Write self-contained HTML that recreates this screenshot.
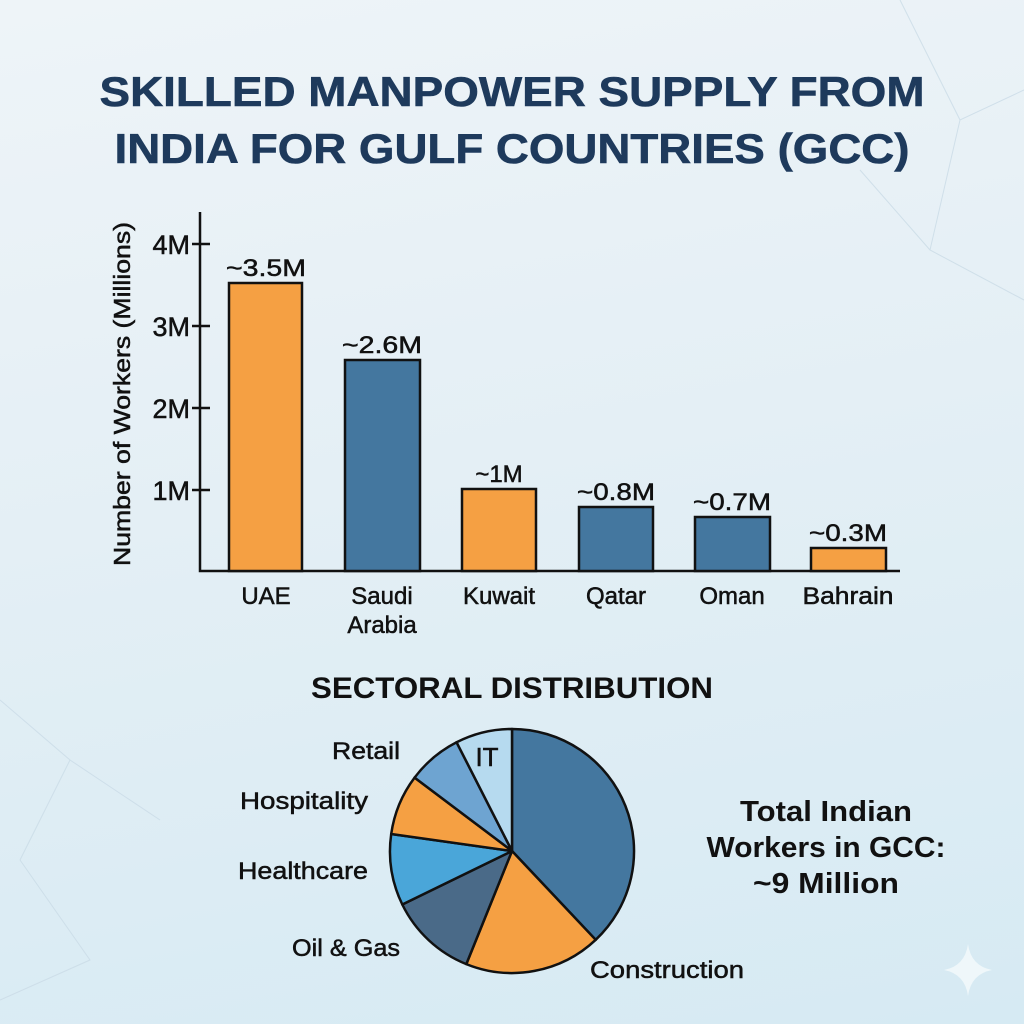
<!DOCTYPE html>
<html><head><meta charset="utf-8"><style>
html,body{margin:0;padding:0;width:1024px;height:1024px;overflow:hidden}
body{background:linear-gradient(170deg,#eef4f8 0%,#e4eff5 45%,#d6eaf3 100%)}
svg{display:block}
text{font-family:"Liberation Sans",Arial,sans-serif}
.lb{stroke:#111;stroke-width:0.5}
</style></head><body>
<svg width="1024" height="1024" viewBox="0 0 1024 1024" xmlns="http://www.w3.org/2000/svg">
<g stroke="#c9dbe6" stroke-width="1" fill="none" opacity="0.8">
<path d="M900 0 L960 120 L1024 90 M960 120 L930 250 L1024 300 M930 250 L860 170 M0 700 L70 760 L20 860 M70 760 L160 820 M20 860 L90 960 L0 1000"/>
</g>
<text x="512" y="106" text-anchor="middle" font-size="42" font-weight="bold" fill="#1e3a5c" stroke="#1e3a5c" stroke-width="0.6" textLength="825" lengthAdjust="spacingAndGlyphs">SKILLED MANPOWER SUPPLY FROM</text>
<text x="512" y="163" text-anchor="middle" font-size="42" font-weight="bold" fill="#1e3a5c" stroke="#1e3a5c" stroke-width="0.6" textLength="795" lengthAdjust="spacingAndGlyphs">INDIA FOR GULF COUNTRIES (GCC)</text>

<g stroke="#111" stroke-width="2.5" fill="none">
<path d="M200 212 V571 H900"/>
<path d="M192 244 H210 M192 326 H210 M192 408 H210 M192 490 H210"/>
</g>
<g font-size="27" fill="#111" text-anchor="end" class="lb">
<text x="190" y="254">4M</text><text x="190" y="336">3M</text><text x="190" y="418">2M</text><text x="190" y="500">1M</text>
</g>
<text transform="translate(130,394) rotate(-90)" text-anchor="middle" font-size="23" fill="#111" class="lb" textLength="344" lengthAdjust="spacingAndGlyphs">Number of Workers (Millions)</text>

<g stroke="#111" stroke-width="2.5">
<rect x="229" y="283" width="73" height="288" fill="#f5a043"/>
<rect x="345" y="360" width="75" height="211" fill="#44779f"/>
<rect x="462" y="489" width="74" height="82" fill="#f5a043"/>
<rect x="579" y="507" width="74" height="64" fill="#44779f"/>
<rect x="695" y="517" width="75" height="54" fill="#44779f"/>
<rect x="811" y="548" width="75" height="23" fill="#f5a043"/>
</g>
<g font-size="24" fill="#111" text-anchor="middle" class="lb">
<text x="266" y="276" textLength="80" lengthAdjust="spacingAndGlyphs">~3.5M</text>
<text x="382" y="353" textLength="80" lengthAdjust="spacingAndGlyphs">~2.6M</text>
<text x="499" y="482">~1M</text>
<text x="616" y="500" textLength="78" lengthAdjust="spacingAndGlyphs">~0.8M</text>
<text x="732" y="510" textLength="78" lengthAdjust="spacingAndGlyphs">~0.7M</text>
<text x="848" y="541" textLength="78" lengthAdjust="spacingAndGlyphs">~0.3M</text>
<text x="266" y="604">UAE</text>
<text x="382" y="604">Saudi</text><text x="382" y="633">Arabia</text>
<text x="499" y="604">Kuwait</text>
<text x="616" y="604">Qatar</text>
<text x="732" y="604">Oman</text>
<text x="848" y="604" textLength="91" lengthAdjust="spacingAndGlyphs">Bahrain</text>
</g>

<text x="512" y="698" text-anchor="middle" font-size="30" font-weight="bold" fill="#111" textLength="402" lengthAdjust="spacingAndGlyphs">SECTORAL DISTRIBUTION</text>

<g stroke="#111" stroke-width="2.5" stroke-linejoin="round">
<path d="M512 851 L512 729 A122 122 0 0 1 595.7 939.8 Z" fill="#44779f"/>
<path d="M512 851 L595.7 939.8 A122 122 0 0 1 466.3 964.1 Z" fill="#f5a043"/>
<path d="M512 851 L466.3 964.1 A122 122 0 0 1 402.3 904.5 Z" fill="#4a6a88"/>
<path d="M512 851 L402.3 904.5 A122 122 0 0 1 391.2 834 Z" fill="#4aa6d9"/>
<path d="M512 851 L391.2 834 A122 122 0 0 1 414.6 777.6 Z" fill="#f5a043"/>
<path d="M512 851 L414.6 777.6 A122 122 0 0 1 456.6 742.3 Z" fill="#6ea4d1"/>
<path d="M512 851 L456.6 742.3 A122 122 0 0 1 512 729 Z" fill="#b6daef"/>
</g>
<g font-size="24" fill="#111" class="lb">
<text x="487" y="766" text-anchor="middle" font-size="26">IT</text>
<text x="400" y="759" text-anchor="end" textLength="68" lengthAdjust="spacingAndGlyphs">Retail</text>
<text x="368" y="809" text-anchor="end" textLength="128" lengthAdjust="spacingAndGlyphs">Hospitality</text>
<text x="368" y="879" text-anchor="end" textLength="130" lengthAdjust="spacingAndGlyphs">Healthcare</text>
<text x="400" y="956" text-anchor="end" textLength="108" lengthAdjust="spacingAndGlyphs">Oil &amp; Gas</text>
<text x="590" y="978" textLength="154" lengthAdjust="spacingAndGlyphs">Construction</text>
</g>
<g font-size="29" font-weight="bold" fill="#111" text-anchor="middle">
<text x="826" y="821" textLength="172" lengthAdjust="spacingAndGlyphs">Total Indian</text>
<text x="826" y="857" textLength="239" lengthAdjust="spacingAndGlyphs">Workers in GCC:</text>
<text x="826" y="893" textLength="146" lengthAdjust="spacingAndGlyphs">~9 Million</text>
</g>
<path d="M968 944 Q971 966 992 970 Q971 974 968 996 Q965 974 944 970 Q965 966 968 944 Z" fill="#f2f8fb" opacity="0.9"/>
</svg>
</body></html>
